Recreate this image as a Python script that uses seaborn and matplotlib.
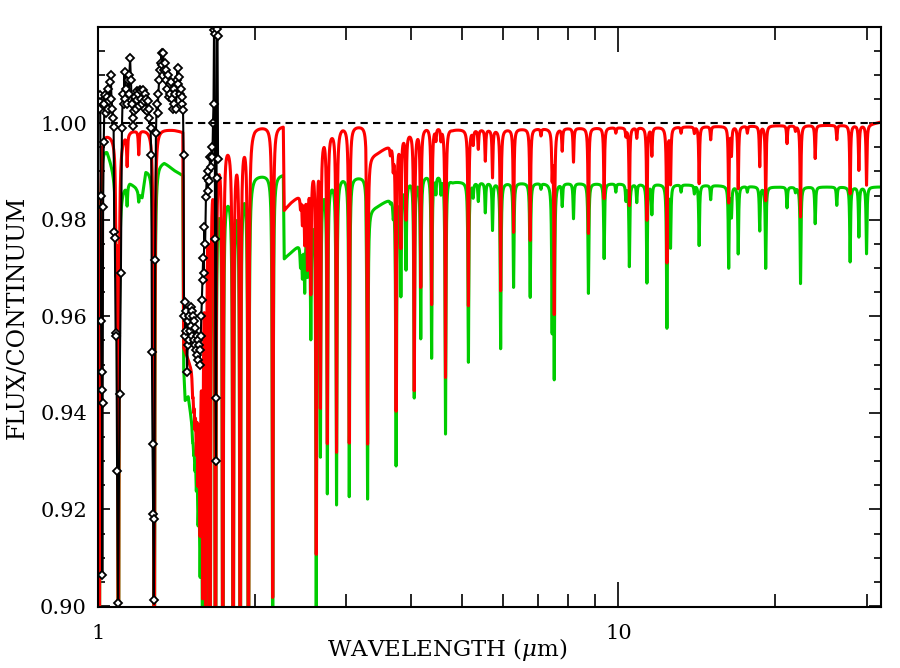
import numpy as np
import pandas as pd
import matplotlib
matplotlib.use("Agg")
import matplotlib.pyplot as plt
import seaborn as sns
from matplotlib.ticker import FixedLocator, FuncFormatter, MultipleLocator, NullFormatter

# Plain white IDL-like look: serif text, inward ticks on every side
sns.set_theme(style="ticks", rc={
    "axes.edgecolor": "black",
    "axes.linewidth": 1.5,
    "xtick.color": "black",
    "ytick.color": "black",
    "text.color": "black",
    "axes.labelcolor": "black",
})
plt.rcParams['font.family'] = ['DejaVu Serif']
plt.rcParams['mathtext.fontset'] = 'dejavuserif'

obs_wave = [1.0022, 1.0058, 1.0089, 1.0116, 1.0134, 1.0152, 1.0170, 1.0188, 1.0206, 1.0224,
            1.0252, 1.0283, 1.0324, 1.0361, 1.0397, 1.0434, 1.0471, 1.0508, 1.0545, 1.0578,
            1.0611, 1.0644, 1.0677, 1.0711, 1.0739, 1.0768, 1.0806, 1.0845, 1.0877, 1.0926,
            1.0999, 1.1062, 1.1112, 1.1152, 1.1195, 1.1240, 1.1281, 1.1320, 1.1361, 1.1401,
            1.1442, 1.1482, 1.1522, 1.1563, 1.1604, 1.1646, 1.1687, 1.1728, 1.1770, 1.1812,
            1.1854, 1.1895, 1.1937, 1.1980, 1.2022, 1.2065, 1.2108, 1.2151, 1.2194, 1.2237,
            1.2281, 1.2324, 1.2368, 1.2412, 1.2456, 1.2500, 1.2545, 1.2612, 1.2657, 1.2690,
            1.2724, 1.2758, 1.2792, 1.2832, 1.2871, 1.2917, 1.2963, 1.3009, 1.3056, 1.3102,
            1.3149, 1.3195, 1.3242, 1.3290, 1.3337, 1.3385, 1.3432, 1.3480, 1.3528, 1.3576,
            1.3624, 1.3673, 1.3721, 1.3770, 1.3819, 1.3868, 1.3918, 1.3968, 1.4018, 1.4067,
            1.4118, 1.4168, 1.4218, 1.4269, 1.4320, 1.4371, 1.4422, 1.4474, 1.4525, 1.4564,
            1.4597, 1.4629, 1.4668, 1.4707, 1.4746, 1.4785, 1.4824, 1.4864, 1.4903, 1.4943,
            1.4983, 1.5022, 1.5062, 1.5103, 1.5143, 1.5183, 1.5224, 1.5264, 1.5305, 1.5346,
            1.5387, 1.5428, 1.5469, 1.5510, 1.5551, 1.5592, 1.5633, 1.5675, 1.5709, 1.5751,
            1.5793, 1.5835, 1.5877, 1.5919, 1.5962, 1.6004, 1.6061, 1.6118, 1.6175, 1.6233,
            1.6291, 1.6349, 1.6408, 1.6466, 1.6526, 1.6585, 1.6630, 1.6667, 1.6704, 1.6740,
            1.6778, 1.6815, 1.6853, 1.6891, 1.6928, 1.6966, 1.7004]
obs_flux = [1.0030, 1.0045, 1.0058, 0.9850, 0.9590, 0.9484, 0.9447, 0.9064, 0.9420, 0.9826,
            0.9960, 1.0040, 1.0058, 1.0020, 1.0055, 1.0030, 1.0070, 1.0045, 1.0085, 1.0099,
            1.0050, 1.0030, 1.0010, 0.9992, 0.9775, 0.9763, 0.9565, 0.9560, 0.9280, 0.9006,
            0.9440, 0.9690, 0.9990, 1.0060, 1.0040, 1.0106, 1.0050, 1.0070, 1.0040, 1.0090,
            1.0060, 1.0100, 1.0134, 1.0090, 1.0040, 1.0010, 0.9993, 1.0025, 1.0055, 1.0030,
            1.0066, 1.0048, 1.0060, 1.0035, 1.0068, 1.0050, 1.0066, 1.0040, 1.0068, 1.0045,
            1.0060, 1.0030, 1.0050, 1.0025, 1.0045, 1.0030, 1.0010, 0.9990, 0.9934, 0.9526,
            0.9335, 0.9190, 0.9012, 0.9180, 0.9716, 0.9980, 1.0040, 1.0020, 1.0060, 1.0090,
            1.0110, 1.0125, 1.0145, 1.0120, 1.0145, 1.0110, 1.0125, 1.0090, 1.0110, 1.0070,
            1.0100, 1.0053, 1.0080, 1.0060, 1.0085, 1.0050, 1.0030, 1.0070, 1.0040, 1.0060,
            1.0030, 1.0090, 1.0114, 1.0080, 1.0095, 1.0060, 1.0070, 1.0040, 1.0055, 1.0027,
            0.9934, 0.9600, 0.9630, 0.9560, 0.9610, 0.9570, 0.9484, 0.9540, 0.9590, 0.9550,
            0.9600, 0.9570, 0.9620, 0.9580, 0.9610, 0.9560, 0.9600, 0.9550, 0.9590, 0.9540,
            0.9575, 0.9530, 0.9560, 0.9520, 0.9550, 0.9510, 0.9540, 0.9500, 0.9530, 0.9560,
            0.9600, 0.9634, 0.9675, 0.9720, 0.9690, 0.9785, 0.9750, 0.9847, 0.9886, 0.9860,
            0.9900, 0.9880, 0.9930, 0.9910, 0.9950, 0.9930, 1.0000, 1.0040, 1.0193, 1.0185,
            0.9760, 0.9430, 0.9300, 0.9886, 1.0195, 1.0180, 0.9925]

# --- model continua (knots) ---
red_cont_wave = [1.000, 1.020, 1.060, 1.100, 1.125, 1.160, 1.230, 1.300, 1.400, 1.455,
                 1.460, 1.500, 1.540, 1.565, 1.585, 1.600, 1.620, 1.650, 1.700, 1.760,
                 1.840, 1.900, 2.000, 2.270, 2.279, 2.350, 2.450, 2.530, 2.590, 2.640,
                 2.720, 2.950, 3.270, 3.279, 3.450, 3.660, 3.850, 4.000, 4.300, 4.650,
                 4.800, 6.000, 8.000, 12.00, 20.00, 30.00, 32.50]
red_cont_flux = [0.9980, 0.9985, 0.9978, 0.9970, 0.9980, 0.9986, 0.9988, 0.9990, 0.9988, 0.9985,
                 0.9540, 0.9510, 0.9490, 0.9520, 0.9650, 0.9820, 0.9930, 0.9962, 0.9960, 0.9975,
                 0.9960, 0.9980, 0.9995, 0.9996, 0.9823, 0.9838, 0.9855, 0.9880, 0.9920, 0.9960,
                 0.9983, 0.9995, 0.9996, 0.9930, 0.9940, 0.9958, 0.9978, 0.9986, 0.9994, 0.9995,
                 0.9988, 0.9988, 0.9990, 0.9992, 0.9995, 0.9996, 1.0004]

green_cont_wave = [1.000, 1.040, 1.065, 1.085, 1.110, 1.150, 1.180, 1.215, 1.235, 1.270,
                   1.310, 1.340, 1.400, 1.455, 1.460, 1.470, 1.490, 1.510, 1.530, 1.550,
                   1.570, 1.590, 1.605, 1.625, 1.650, 1.700, 1.760, 1.840, 1.900, 2.000,
                   2.270, 2.279, 2.350, 2.450, 2.530, 2.590, 2.640, 2.720, 2.950, 3.270,
                   3.279, 3.450, 3.660, 3.850, 4.000, 4.300, 4.650, 4.800, 6.000, 8.000,
                   12.00, 20.00, 32.50]
green_cont_flux = [0.9965, 0.9950, 0.9915, 0.9885, 0.9870, 0.9880, 0.9870, 0.9850, 0.9905, 0.9910,
                   0.9920, 0.9922, 0.9905, 0.9895, 0.9500, 0.9430, 0.9440, 0.9400, 0.9380, 0.9340,
                   0.9250, 0.9300, 0.9600, 0.9780, 0.9860, 0.9872, 0.9866, 0.9866, 0.9885, 0.9895,
                   0.9896, 0.9723, 0.9735, 0.9754, 0.9785, 0.9820, 0.9850, 0.9875, 0.9890, 0.9890,
                   0.9820, 0.9830, 0.9847, 0.9870, 0.9885, 0.9895, 0.9895, 0.9880, 0.9877, 0.9876,
                   0.9874, 0.9868, 0.9868]

# --- absorption lines: centre (um), minimum of red model, minimum of green model ---
line_wave = [1.0050, 1.0830, 1.0938, 1.1370, 1.1970, 1.2818,
             1.5192, 1.5265, 1.5345, 1.5443, 1.5561, 1.5705, 1.5885, 1.6114, 1.6412, 1.6811,
             1.7367, 1.8179, 1.8756, 1.9451, 2.1661,
             2.4490, 2.4700, 2.4953, 2.5264, 2.5638, 2.6260, 2.6751, 2.7583, 2.8730, 3.0392,
             3.2961, 3.6454, 3.6917, 3.7395, 3.8194, 3.9075, 4.0523, 4.1708, 4.3765, 4.4600,
             4.5600, 4.6538, 5.1500, 5.2600, 5.3800, 5.5500, 5.7300, 5.9400, 6.2900, 6.7700,
             7.1000, 7.4600, 7.5300, 7.8000, 8.2000, 8.7600, 9.3900, 9.8900, 10.340, 10.500,
             10.850, 11.350, 11.600, 12.400, 12.600, 13.200, 14.000, 14.300, 15.050, 16.300,
             16.500, 17.000, 17.700, 18.700, 19.200, 21.100, 21.900, 22.400, 23.900, 26.300,
             27.900, 29.000, 30.000]
line_red = [0.850, 0.976, 0.850, 0.9917, 0.9938, 0.850,
            0.946, 0.944, 0.941, 0.936, 0.930, 0.920, 0.9075, 0.850, 0.850, 0.850,
            0.850, 0.850, 0.850, 0.850, 0.902,
            0.983, 0.980, 0.976, 0.971, 0.966, 0.912, 0.9427, 0.9344, 0.9323, 0.9340,
            0.9337, 0.9940, 0.9917, 0.9409, 0.9750, 0.9806, 0.9450, 0.9665, 0.9627, 0.9970,
            0.9970, 0.9475, 0.9623, 0.9959, 0.9948, 0.9923, 0.9889, 0.9654, 0.9775, 0.9758,
            0.9975, 0.9900, 0.9609, 0.9944, 0.9920, 0.9772, 0.9844, 0.9980, 0.9975, 0.9830,
            0.9970, 0.9800, 0.9934, 0.9713, 0.9878, 0.9980, 0.9980, 0.9875, 0.9966, 0.9837,
            0.9937, 0.9865, 0.9980, 0.9911, 0.9840, 0.9958, 0.9985, 0.9806, 0.9927, 0.9966,
            0.9854, 0.9903, 0.9872]
line_green = [0.840, 0.976, 0.840, 0.9835, 0.9840, 0.840,
              0.936, 0.934, 0.931, 0.927, 0.920, 0.910, 0.890, 0.840, 0.840, 0.840,
              0.840, 0.840, 0.840, 0.840, 0.880,
              0.971, 0.969, 0.966, 0.9696, 0.9565, 0.9009, 0.9326, 0.9240, 0.9214, 0.9229,
              0.9223, 0.9840, 0.9820, 0.9295, 0.9650, 0.9702, 0.9435, 0.9558, 0.9516, 0.9860,
              0.9860, 0.9358, 0.9506, 0.9850, 0.9840, 0.9816, 0.9780, 0.9534, 0.9661, 0.9640,
              0.9865, 0.9586, 0.9485, 0.9830, 0.9803, 0.9648, 0.9720, 0.9858, 0.9842, 0.9704,
              0.9837, 0.9670, 0.9813, 0.9578, 0.9747, 0.9858, 0.9855, 0.9747, 0.9842, 0.9702,
              0.9810, 0.9730, 0.9858, 0.9778, 0.9700, 0.9825, 0.9858, 0.9668, 0.9792, 0.9830,
              0.9713, 0.9765, 0.9730]

LINE_HW = 0.001  # line half width in dex of wavelength

grid = np.union1d(np.logspace(0, np.log10(32.5), 20000), line_wave)


def model_spectrum(cont_wave, cont_flux, line_min):
    # continuum through the knots, then each line cut in as a narrow dip
    lg = np.log10(grid)
    lcw = np.log10(cont_wave)
    flux = np.interp(lg, lcw, cont_flux)
    for w0, fmin in zip(line_wave, line_min):
        c0 = np.interp(np.log10(w0), lcw, cont_flux)
        depth = 1.0 - fmin / c0
        p = (lg - np.log10(w0)) / LINE_HW
        flux = flux * (1.0 - depth / (1.0 + p ** 2))
    return flux


df = pd.concat([
    pd.DataFrame({"wave": grid, "flux": model_spectrum(green_cont_wave, green_cont_flux, line_green), "model": "green"}),
    pd.DataFrame({"wave": grid, "flux": model_spectrum(red_cont_wave, red_cont_flux, line_red), "model": "red"}),
])

fig = plt.figure(figsize=(9, 6.68), dpi=100)
ax = fig.add_axes([0.109, 0.0913, 0.870, 0.8683])

sns.lineplot(data=df, x="wave", y="flux", hue="model", hue_order=["green", "red"],
             palette={"green": "#00CC00", "red": "#FF0000"}, estimator=None, sort=False,
             linewidth=2.2, legend=False, ax=ax)
sns.lineplot(x=obs_wave, y=obs_flux, color="black", estimator=None, sort=False,
             linewidth=1.5, marker="D", markersize=4.5, markerfacecolor="white",
             markeredgecolor="black", markeredgewidth=1.3, ax=ax)
ax.axhline(1.0, color="black", linestyle=(0, (3.5, 2.5)), linewidth=1.5)

ax.set_xscale("log")
ax.set_xlim(1.0, 32.0)
ax.set_ylim(0.8998, 1.0199)
ax.xaxis.set_major_locator(FixedLocator([1, 10]))
ax.xaxis.set_major_formatter(FuncFormatter(lambda v, p: f"{v:g}"))
ax.xaxis.set_minor_locator(FixedLocator([2, 3, 4, 5, 6, 7, 8, 9, 20, 30]))
ax.xaxis.set_minor_formatter(NullFormatter())
ax.yaxis.set_major_locator(MultipleLocator(0.02))
ax.yaxis.set_major_formatter(FuncFormatter(lambda v, p: f"{v:.2f}"))
ax.yaxis.set_minor_locator(MultipleLocator(0.005))

ax.tick_params(axis="both", which="both", direction="in", top=True, right=True, width=1.2)
ax.tick_params(axis="x", which="major", length=18, pad=12, labelsize=15)
ax.tick_params(axis="x", which="minor", length=9.5)
ax.tick_params(axis="y", which="major", length=8.5, pad=8, labelsize=15)
ax.tick_params(axis="y", which="minor", length=5)

ax.set_xlabel(r"WAVELENGTH ($\mu$m)", fontsize=16.5)
ax.xaxis.set_label_coords(0.446, -0.05)
ax.set_ylabel("FLUX/CONTINUUM", fontsize=17, labelpad=8)

fig.savefig("out.png", dpi=100, facecolor="white")
plt.close(fig)
